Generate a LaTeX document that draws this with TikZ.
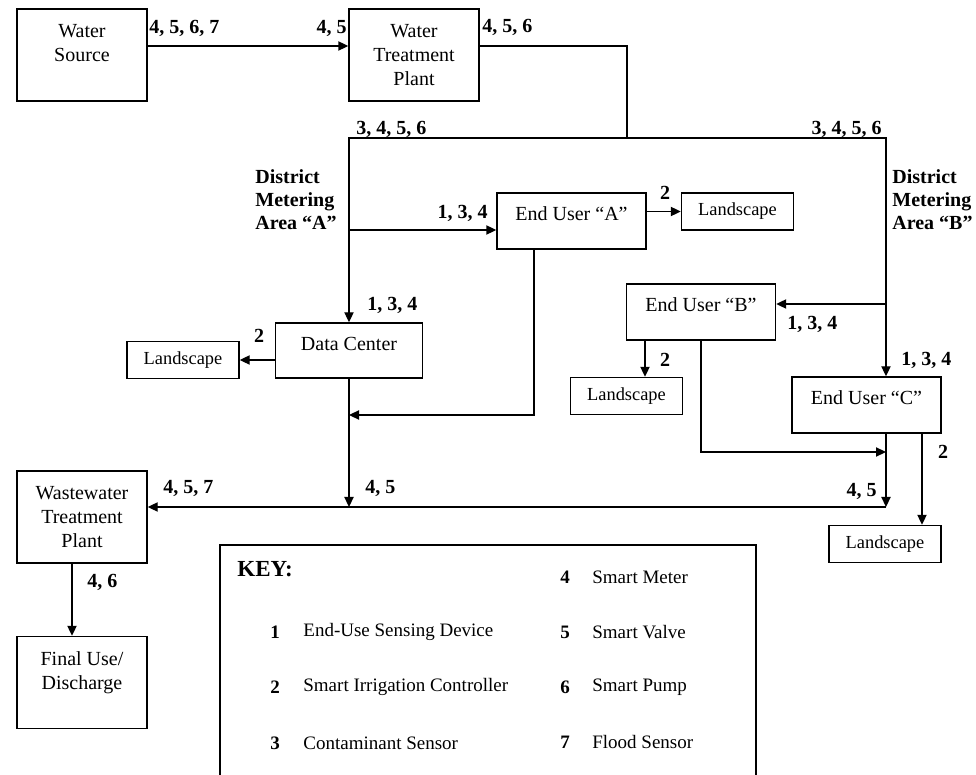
\documentclass[tikz,border=0pt]{standalone}
\usepackage{fontspec}
\setmainfont{Liberation Serif}
\usetikzlibrary{arrows.meta}

\newcommand{\boxfont}{\fontsize{10}{12}\selectfont}
\newcommand{\lblfont}{\bfseries\fontsize{10}{11.5}\selectfont}

\begin{document}
\begin{tikzpicture}[x=0.5pt,y=-0.5pt,
  pipe/.style={line width=0.7pt},
  flow/.style={pipe,-{Triangle[length=5pt,width=4.6pt]}},
  box/.style={draw,line width=0.7pt,align=center,inner sep=0pt,font=\boxfont},
  plant/.style={box,minimum width=65pt,minimum height=46pt},
  user/.style={box,minimum width=74.5pt,minimum height=28pt,text height=7pt,text depth=7pt},
  land/.style={box,minimum width=56pt,minimum height=18.5pt,font=\fontsize{9.2}{10}\selectfont},
  lbl/.style={inner sep=0pt,font=\lblfont},
  keytxt/.style={inner sep=0pt,anchor=west,font=\fontsize{9.5}{11}\selectfont},
  keynum/.style={inner sep=0pt,font=\bfseries\fontsize{9.5}{11}\selectfont}]

  \useasboundingbox (0,0) rectangle (976,775);

  %% boxes
  \node[plant] (src) at (82,55) {Water\\Source\\~};
  \node[plant] (wtp) at (414,55) {Water\\Treatment\\Plant};
  \node[plant] (ww) at (82,517) {Wastewater\\Treatment\\Plant};
  \node[plant] (fin) at (82,682.5) {Final Use/\\Discharge\\~};

  \node[user,minimum width=73.5pt,minimum height=27.5pt] (dc) at (349,350.5) {Data Center};
  \node[user] (eua) at (571.5,221) {End User “A”};
  \node[user] (eub) at (701,312) {End User “B”};
  \node[user] (euc) at (866.5,405) {End User “C”};

  \node[land] (lsa) at (737.5,211.5) {Landscape};
  \node[land] (lsdc) at (183,360) {Landscape};
  \node[land] (lsb) at (626.5,396) {Landscape};
  \node[land] (lsc) at (885,544) {Landscape};

  %% supply side
  \coordinate (split) at (627,138);
  \coordinate (dmaA) at (349,138);
  \coordinate (dmaB) at (886,138);

  \draw[flow] ([yshift=4.5pt]src.east) -- ([yshift=4.5pt]wtp.west);
  \draw[pipe] ([yshift=4.5pt]wtp.east) -| (split);
  \draw[flow] (split) -- (dmaA) -- (dc.north);
  \draw[flow] (split) -- (dmaB) -- (dmaB |- euc.north);

  %% area A
  \coordinate (aIn) at ([yshift=-4.5pt]eua.west);
  \coordinate (aJoin) at (349,415);
  \coordinate (drainR) at (886,507);
  \draw[flow] (dmaA |- aIn) -- (aIn);
  \draw[flow] (eua.east |- lsa.west) -- (lsa.west);
  \draw[flow] ([xshift=-18.75pt]eua.south) |- (aJoin);
  \draw[flow] (dc.west |- lsdc.east) -- (lsdc.east);
  \draw[flow] (dc.south) -- (dc.south |- drainR);

  %% area B
  \coordinate (bIn) at ([yshift=4pt]eub.east);
  \coordinate (cJoin) at (886,452);
  \draw[flow] (dmaB |- bIn) -- (bIn);
  \draw[flow] ([xshift=-28pt]eub.south) coordinate (bLs) -- (bLs |- lsb.north);
  \draw[flow] (eub.south) |- (cJoin);
  \draw[flow] (dmaB |- euc.south) -- (drainR);
  \draw[flow] ([xshift=27.75pt]euc.south) coordinate (cLs) -- (cLs |- lsc.north);

  %% waste side
  \draw[flow] (drainR) -- (drainR -| ww.east);
  \draw[flow] ([xshift=-5pt]ww.south) coordinate (wOut) -- (wOut |- fin.north);

  %% device labels
  \node[lbl,anchor=west] (l4567) at (149,28) {4, 5, 6, 7};
  \node[lbl,anchor=east] (l45in) at (347,28) {4, 5};
  \node[lbl,anchor=west] (l456) at (482,27) {4, 5, 6};
  \node[lbl,anchor=west] (l3456a) at (356,129) {3, 4, 5, 6};
  \node[lbl,anchor=east] (l3456b) at (882,129) {3, 4, 5, 6};
  \node[lbl,anchor=west,align=left] (dmaAtxt) at (255,200) {District\\Metering\\Area “A”};
  \node[lbl,anchor=west,align=left] (dmaBtxt) at (892,200) {District\\Metering\\Area “B”};
  \node[lbl,anchor=east] (l134a) at (488,213) {1, 3, 4};
  \node[lbl] (l2a) at (665,193) {2};
  \node[lbl,anchor=west] (l134dc) at (367,305) {1, 3, 4};
  \node[lbl] (l2dc) at (259,336) {2};
  \node[lbl,anchor=west] (l134b) at (787,324) {1, 3, 4};
  \node[lbl] (l2b) at (665,360) {2};
  \node[lbl,anchor=west] (l134c) at (901,360) {1, 3, 4};
  \node[lbl] (l2c) at (943,452) {2};
  \node[lbl,anchor=east] (l45c) at (877,491) {4, 5};
  \node[lbl,anchor=west] (l45dc) at (365,488) {4, 5};
  \node[lbl,anchor=west] (l457) at (163,488) {4, 5, 7};
  \node[lbl,anchor=west] (l46) at (87,582) {4, 6};

  %% key
  \draw[pipe] (220,790) -- (220,545) -- (756,545) -- (756,790);
  \node[lbl,anchor=west,font=\bfseries\fontsize{11.5}{13}\selectfont] (keyhd) at (237,569) {KEY:};
  \node[keynum] (k1) at (275,632) {1};
  \node[keytxt] (k1t) at (303,632) {End-Use Sensing Device};
  \node[keynum] (k2) at (275,687) {2};
  \node[keytxt] (k2t) at (303,687) {Smart Irrigation Controller};
  \node[keynum] (k3) at (275,743) {3};
  \node[keytxt] (k3t) at (303,743) {Contaminant Sensor};
  \node[keynum] (k4) at (565,577) {4};
  \node[keytxt] (k4t) at (592,577) {Smart Meter};
  \node[keynum] (k5) at (565,632) {5};
  \node[keytxt] (k5t) at (592,632) {Smart Valve};
  \node[keynum] (k6) at (565,687) {6};
  \node[keytxt] (k6t) at (592,687) {Smart Pump};
  \node[keynum] (k7) at (565,742) {7};
  \node[keytxt] (k7t) at (592,742) {Flood Sensor};

\end{tikzpicture}
\end{document}
